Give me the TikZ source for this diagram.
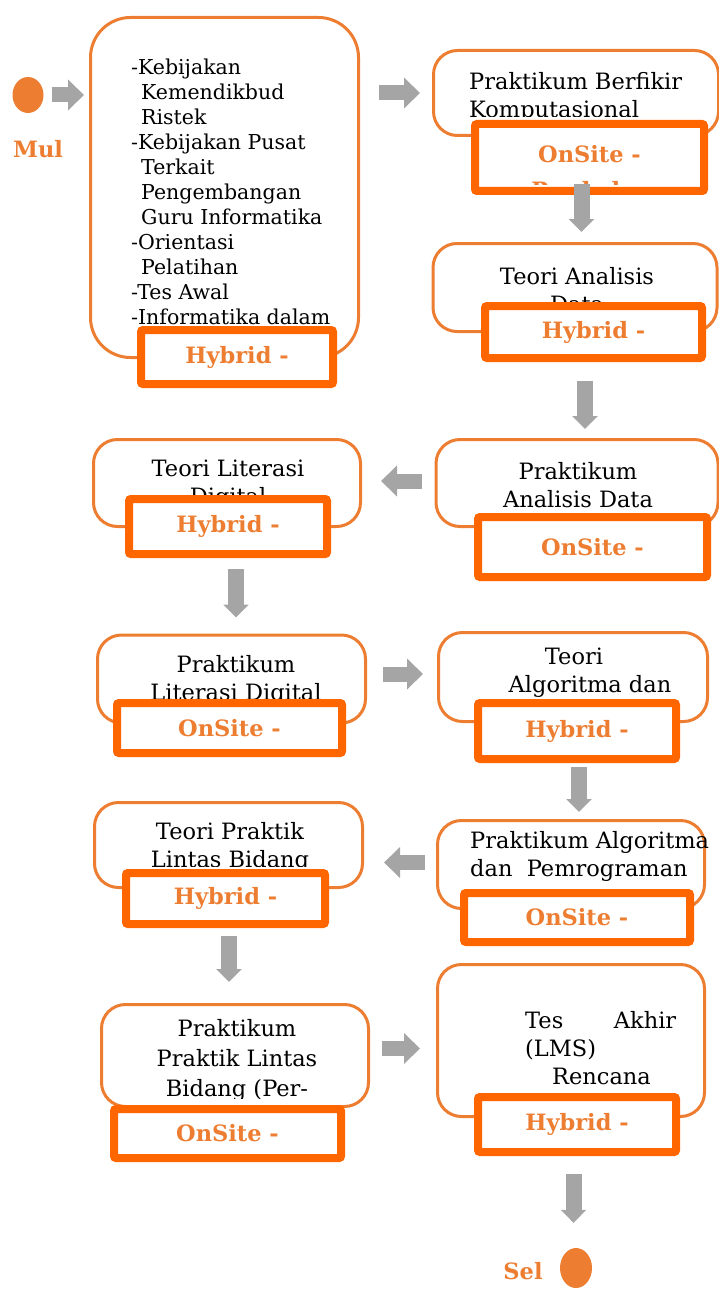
\documentclass[tikz,border=0pt]{standalone}
\usepackage{fontspec}
\setmainfont{DejaVu Serif}
\usetikzlibrary{arrows.meta, positioning, shapes.geometric, calc}

\definecolor{boxorange}{HTML}{ED7D31}
\definecolor{modeorange}{HTML}{FF6600}
\definecolor{arrowgray}{HTML}{A5A5A5}

\newcommand{\stagefont}{\fontsize{22.5}{28}\selectfont}
\newcommand{\listfont}{\fontsize{20.5}{25}\selectfont}
\newcommand{\modefont}{\fontsize{22.5}{27}\selectfont\bfseries}

\begin{document}
\begin{tikzpicture}[x=1pt, y=-1pt,
    stage/.style={draw=boxorange, line width=3pt, rounded corners=24pt, fill=white, inner sep=0pt},
    mode/.style={draw=modeorange, line width=8pt, rounded corners=2pt, fill=white, inner sep=0pt, text=boxorange, font=\modefont},
    stagetext/.style={inner sep=0pt, font=\stagefont, align=center},
    tagtext/.style={inner sep=0pt, text=boxorange, font=\modefont},
    dot/.style={ellipse, fill=boxorange, inner sep=0pt},
    hflow/.style={draw=arrowgray, line width=15pt, -{Triangle[width=30pt, length=16pt]}},
    vflow/.style={draw=arrowgray, line width=16pt, -{Triangle[width=25pt, length=13pt]}}]

    \useasboundingbox (0,0) rectangle (718,1292);

    % Start
    \node[dot, minimum width=31pt, minimum height=36pt] (s) at (28,95) {};
    \node[tagtext, anchor=base] (mul) at (38,158) {Mul};

    % Stage boxes
    \node[stage, rounded corners=40pt, minimum width=268pt, minimum height=340pt] (b1) at (224.5,187.5) {};
    \node[stage, minimum width=285pt, minimum height=85pt] (b2) at (576,93) {};
    \node[stage, minimum width=284pt, minimum height=88pt] (b3) at (575,287.5) {};
    \node[stage, minimum width=282pt, minimum height=87pt] (b4) at (577,483) {};
    \node[stage, minimum width=267pt, minimum height=87pt] (b5) at (227,483) {};
    \node[stage, minimum width=268pt, minimum height=88pt] (b6) at (231.5,679) {};
    \node[stage, minimum width=269pt, minimum height=89pt] (b7) at (573,677) {};
    \node[stage, minimum width=267pt, minimum height=88pt] (b8) at (571,864.5) {};
    \node[stage, minimum width=268pt, minimum height=85pt] (b9) at (228.5,845) {};
    \node[stage, minimum width=267pt, minimum height=102pt] (b10) at (235,1055.5) {};
    \node[stage, minimum width=267pt, minimum height=152pt] (b11) at (571,1040.5) {};

    % Stage texts
    \node[inner sep=0pt, font=\listfont, align=left, anchor=west] (t1) at (131,192)
        {-Kebijakan\\\hspace*{10pt}Kemendikbud\\\hspace*{10pt}Ristek\\-Kebijakan Pusat\\
         \hspace*{10pt}Terkait\\\hspace*{10pt}Pengembangan\\\hspace*{10pt}Guru Informatika\\
         -Orientasi\\\hspace*{10pt}Pelatihan\\-Tes Awal\\-Informatika dalam};
    \begin{scope}
        \clip (b2.north west) rectangle ($(b2.east)+(0,24)$);
        \node[stagetext, align=left, anchor=west] (t2) at (469,97) {Praktikum Berfikir\\Komputasional};
    \end{scope}
    \node[stagetext] (t3) at (577,290) {Teori Analisis\\Data};
    \node[stagetext] (t4) at (578,485) {Praktikum\\Analisis Data};
    \node[stagetext] (t5) at (228,485) {Teori Literasi\\Digital};
    \node[stagetext] (t6) at (236,680) {Praktikum\\Literasi Digital};
    \node[stagetext] (t7) at (590,673) {\hspace*{-32pt}Teori\\Algoritma dan};
    \node[stagetext, align=left, anchor=west] (t8) at (470,856.5) {Praktikum Algoritma\\dan\ \ Pemrograman};
    \begin{scope}
        \clip (b9.north west) rectangle ($(b9.east)+(0,21)$);
        \node[stagetext] (t9) at (230,847.5) {Teori Praktik\\Lintas Bidang};
    \end{scope}
    \begin{scope}
        \clip (b10.north west) rectangle ($(b10.east)+(0,42.5)$);
        \node[stagetext, font=\fontsize{22.5}{30}\selectfont] (t10) at (237,1060) {Praktikum\\Praktik Lintas\\Bidang (Per-};
    \end{scope}
    \node[stagetext, align=left, text width=151pt, anchor=west] (t11) at (525,1048.5)
        {Tes\hfill Akhir\\(LMS)\\\hspace*{27pt}Rencana};

    % Delivery modes
    \node[mode, minimum width=192pt, minimum height=54pt] (lab1) at (237,357) {Hybrid -};
    \node[mode, minimum width=229pt, minimum height=67pt] (lab2) at (589.5,157.5) {};
    \begin{scope}
        \clip ($(lab2.north west)+(4,4)$) rectangle ($(lab2.south east)+(-4,-10)$);
        \node[tagtext, align=center, font=\fontsize{22.5}{36}\selectfont\bfseries] (lab2txt) at (589.5,172) {OnSite -\\Per kelas};
    \end{scope}
    \node[mode, minimum width=217pt, minimum height=52pt] (lab3) at (593.5,332) {Hybrid -};
    \node[mode, minimum width=229pt, minimum height=60pt] (lab4) at (592.5,547) {OnSite -};
    \node[mode, minimum width=198pt, minimum height=55pt] (lab5) at (228,526.5) {Hybrid -};
    \node[mode, minimum width=225pt, minimum height=50pt] (lab6) at (229.5,728) {OnSite -};
    \node[mode, minimum width=198pt, minimum height=56pt] (lab7) at (577,731) {Hybrid -};
    \node[mode, minimum width=226pt, minimum height=49pt] (lab8) at (577,917.5) {OnSite -};
    \node[mode, minimum width=199pt, minimum height=51pt] (lab9) at (225.5,898.5) {Hybrid -};
    \node[mode, minimum width=227pt, minimum height=49pt] (lab10) at (227.5,1133.5) {OnSite -};
    \node[mode, minimum width=198pt, minimum height=55pt] (lab11) at (577,1124.5) {Hybrid -};

    % End
    \node[dot, minimum width=32pt, minimum height=40pt] (e) at (576,1268) {};
    \node[tagtext, anchor=base] (sel) at (523,1279) {Sel};

    % Flow
    \draw[hflow] ($(s.east)+(8,0)$) -- ($(s.east -| b1.west)+(-5,0)$);
    \draw[hflow] ($(b2.west -| b1.east)+(19,0)$) -- ($(b2.west)+(-12,0)$);
    \draw[vflow] ($(lab2.south)+(-8,-11)$) -- ($(lab2.south |- b3.north)+(-8,-10)$);
    \draw[vflow] ($(lab3.south)+(-8.5,19)$) -- ($(lab3.south |- b4.north)+(-8.5,-9)$);
    \draw[hflow] ($(b4.west)+(-13,-2)$) -- ($(b4.west -| b5.east)+(19,-2)$);
    \draw[vflow] ($(lab5.south)+(8,11)$) -- ($(lab5.south |- b6.north)+(8,-16)$);
    \draw[hflow] ($(b6.east)+(16,-5)$) -- ($(b6.east -| b7.west)+(-14,-5)$);
    \draw[vflow] ($(lab7.south)+(2,4)$) -- ($(lab7.south |- b8.north)+(2,-7)$);
    \draw[hflow] ($(b8.west)+(-11,-2)$) -- ($(b8.west -| b9.east)+(20,-2)$);
    \draw[vflow] ($(lab9.south)+(3.5,8)$) -- ($(lab9.south |- b10.north)+(3.5,-21)$);
    \draw[hflow] ($(b10.east)+(12,-7)$) -- ($(b10.east -| b11.west)+(-16,-7)$);
    \draw[vflow] ($(lab11.south)+(-3.5,18)$) -- ($(lab11.south |- e.north)+(-3.5,-25)$);
\end{tikzpicture}
\end{document}
